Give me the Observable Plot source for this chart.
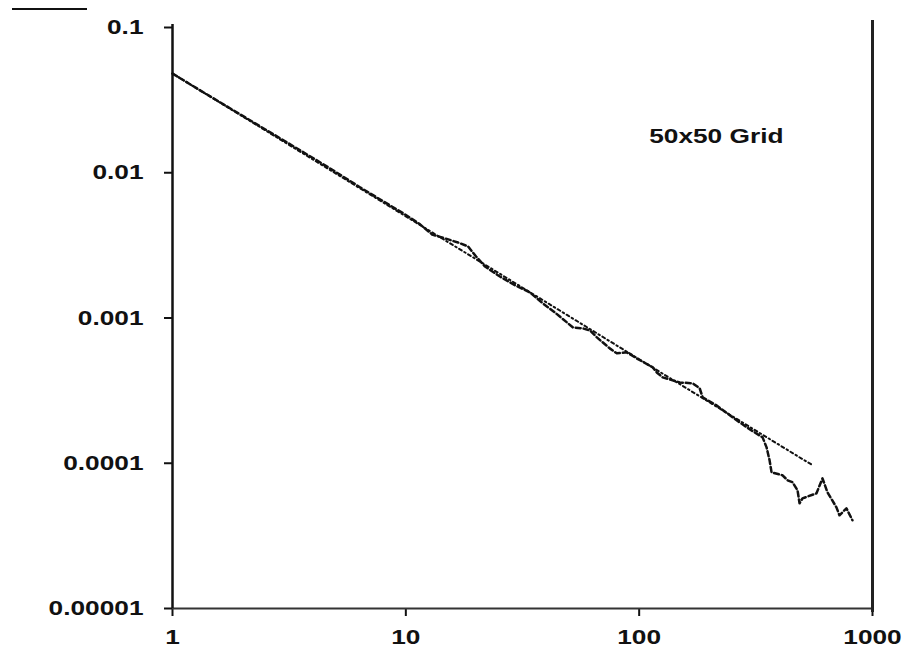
<!DOCTYPE html>
<html>
<head>
<meta charset="utf-8">
<script src="https://cdn.jsdelivr.net/npm/d3@7"></script>
<script src="https://cdn.jsdelivr.net/npm/@observablehq/plot@0.6"></script>
<style>
  html, body { margin: 0; padding: 0; background: #ffffff; }
  #wrap { position: relative; width: 903px; height: 650px; }
  #mark { position: absolute; left: 12px; top: 8px; width: 75px; border-top: 2px solid #111; }
</style>
</head>
<body>
<div id="wrap"><div id="mark"></div></div>
<script>
// Observed data (jagged dashed curve)
const dataS = [1, 1.318, 2.157, 3.53, 4.74, 6.38, 8.57, 9.93, 11.51, 12.96, 14.73, 16.74, 18.48, 20.0, 21.85, 25.3, 29.4, 34.0, 38.7, 43.5, 49.0, 52.0, 57.4, 61.5, 65.9, 74.8, 80.2, 88.5, 97.7, 114.4, 119.0, 126.2, 149.2, 169.6, 181.7, 187.1, 214.8, 251.5, 288.7, 338.0, 351.6, 362.2, 369.3, 411.7, 432.5, 454.4, 477.3, 486.8, 501.2, 575.4, 610.4, 641.2, 700.6, 721.7, 773.2, 820.4];
const dataP = [0.0482, 0.0368, 0.0229, 0.01424, 0.0107, 0.00792, 0.00595, 0.00516, 0.00441, 0.00376, 0.00353, 0.00331, 0.00311, 0.00265, 0.00226, 0.00193, 0.00168, 0.0015, 0.00126, 0.001093, 0.000933, 0.000861, 0.000848, 0.000822, 0.000735, 0.000618, 0.000571, 0.00058, 0.000527, 0.000457, 0.000422, 0.00039, 0.00036, 0.000355, 0.000328, 0.000284, 0.00025, 0.000207, 0.000177, 0.0001507, 0.0001286, 0.0001047, 0.0000866, 0.0000826, 0.0000763, 0.0000739, 0.0000651, 0.000053, 0.0000573, 0.0000621, 0.0000787, 0.0000631, 0.0000497, 0.0000438, 0.0000489, 0.0000405];

// Fitted power law (dash-dot line)
const fitS = [1, 2, 5, 10, 20, 50, 100, 200, 500, 553];
const fitP = [0.0482, 0.0244, 0.0099, 0.00501, 0.00254, 0.00103, 0.00052, 0.000263, 0.000107, 0.0000973];

const xTicks = [1, 10, 100, 1000];
const xTickLabels = ["1", "10", "100", "1000"];
const yTicks = [0.1, 0.01, 0.001, 0.0001, 0.00001];
const yTickLabels = ["0.1", "0.01", "0.001", "0.0001", "0.00001"];
const annotation = "50x50 Grid";

const observed = dataS.map((s, i) => ({s, p: dataP[i]}));
const fitted = fitS.map((s, i) => ({s, p: fitP[i]}));

const chart = Plot.plot({
  width: 903,
  height: 650,
  marginLeft: 172,
  marginRight: 31,
  marginTop: 27,
  marginBottom: 42,
  style: {
    background: "#ffffff",
    color: "#111",
    fontFamily: "'Liberation Sans', Arial, sans-serif",
    fontSize: "21px",
    fontWeight: "bold",
    overflow: "visible"
  },
  x: {type: "log", domain: [1, 1000], label: null, axis: null},
  y: {type: "log", domain: [0.00001, 0.1], label: null, axis: null},
  marks: [
    Plot.axisX({ticks: xTicks, tickFormat: d => xTickLabels[xTicks.indexOf(d)], tickSize: 8, tickPadding: 13, strokeWidth: 2, label: null}),
    Plot.axisY({ticks: yTicks, tickFormat: d => yTickLabels[yTicks.indexOf(d)], tickSize: 8, tickPadding: 21, strokeWidth: 2, label: null}),
    Plot.ruleY([0.00001], {stroke: "#333", strokeWidth: 2}),
    Plot.ruleX([1], {stroke: "#111", strokeWidth: 2.5, insetTop: -3}),
    Plot.ruleX([1000], {stroke: "#222", strokeWidth: 3, insetTop: -7, insetBottom: -4}),
    Plot.line(fitted, {x: "s", y: "p", stroke: "#111", strokeWidth: 2, strokeDasharray: "3,3,1.5,3"}),
    Plot.line(observed, {x: "s", y: "p", stroke: "#111", strokeWidth: 2.5, strokeDasharray: "5,3", curve: "linear"}),
    Plot.text([annotation], {frameAnchor: "top-right", dx: -89, dy: 101, textAnchor: "end", lineAnchor: "top", fontSize: 21, fontWeight: "bold", fill: "#111"})
  ]
});
document.getElementById("wrap").appendChild(chart);
// Widen glyphs horizontally like the stretched original
chart.querySelectorAll("text").forEach(t => {
  const len = t.getComputedTextLength();
  if (len > 0) {
    t.setAttribute("textLength", (len * 1.25).toFixed(1));
    t.setAttribute("lengthAdjust", "spacingAndGlyphs");
  }
});
</script>
</body>
</html>
